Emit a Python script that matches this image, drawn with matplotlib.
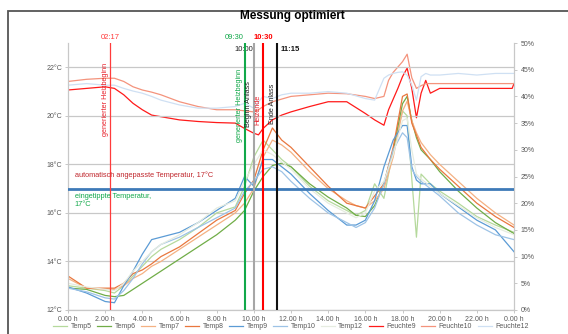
import matplotlib
matplotlib.use("Agg")
from matplotlib import pyplot as plt
from matplotlib import transforms
from matplotlib.patches import Rectangle

plt.rcParams['font.family'] = ['Liberation Sans', 'DejaVu Sans']

# --- data ----------------------------------------------------------------
t_temp = [0, 1, 2, 2.5, 3, 3.5, 4, 4.5, 5, 6, 7, 8, 9, 9.5, 10, 10.5, 11, 11.5,
          12, 13, 14, 15, 15.5, 16, 16.5, 17, 17.5, 18, 18.25, 18.5, 18.75, 19,
          19.5, 20, 21, 22, 23, 24]

temp5 = [13.0, 12.9, 12.8, 12.7, 13.0, 13.4, 13.8, 14.2, 14.5, 14.9, 15.4, 16.0,
         16.25, 17.1, 18.3, 19.0, 18.6, 18.2, 17.9, 17.1, 16.5, 16.1, 15.9, 16.1,
         17.2, 16.6, 18.6, 20.2, 20.0, 17.4, 15.0, 17.6, 17.2, 16.9, 16.4, 15.85,
         15.5, 15.2]
temp6 = [12.9, 12.85, 12.6, 12.55, 12.6, 12.85, 13.1, 13.35, 13.6, 14.1, 14.6,
         15.1, 15.7, 16.1, 16.9, 17.5, 17.95, 18.05, 17.9, 17.2, 16.65, 16.2,
         15.9, 15.85, 16.3, 17.2, 18.6, 20.5, 20.8, 19.8, 19.1, 18.6, 18.2, 17.7,
         16.9, 16.2, 15.6, 15.15]
temp7 = [13.3, 12.9, 12.85, 12.85, 13.0, 13.3, 13.5, 13.8, 14.0, 14.5, 15.0, 15.5,
         16.0, 16.4, 17.0, 18.3, 19.0, 18.8, 18.5, 17.7, 17.0, 16.5, 16.3, 16.2,
         16.5, 17.0, 18.3, 20.2, 20.6, 19.8, 19.3, 18.9, 18.4, 18.0, 17.3, 16.6,
         16.0, 15.5]
temp8 = [13.4, 12.9, 12.9, 12.9, 13.1, 13.5, 13.65, 13.9, 14.2, 14.6, 15.15, 15.7,
         16.1, 16.8, 17.35, 18.6, 19.5, 19.0, 18.7, 17.9, 17.1, 16.4, 16.3, 16.2,
         16.7, 17.2, 18.7, 20.8, 20.9, 19.7, 19.2, 18.7, 18.2, 17.8, 17.1, 16.4,
         15.85, 15.4]
temp9 = [12.95, 12.7, 12.35, 12.3, 13.0, 13.6, 14.3, 14.9, 15.0, 15.2, 15.6, 16.1,
         16.6, 17.5, 17.1, 18.2, 18.2, 17.9, 17.6, 16.8, 16.1, 15.5, 15.5, 15.7,
         16.5, 17.9, 19.0, 19.6, 19.6, 17.9, 17.35, 17.2, 17.2, 16.8, 16.25, 15.7,
         15.3, 14.4]
temp10 = [12.9, 12.75, 12.5, 12.45, 12.8, 13.3, 13.9, 14.4, 14.7, 15.0, 15.4,
          15.8, 16.2, 16.9, 17.3, 17.8, 17.9, 17.7, 17.3, 16.6, 16.0, 15.6, 15.4,
          15.6, 16.2, 17.2, 18.6, 19.3, 19.1, 17.8, 17.5, 17.3, 17.0, 16.7, 16.0,
          15.5, 15.1, 14.9]
temp12 = [13.1, 12.95, 12.85, 12.8, 13.1, 13.6, 14.0, 14.4, 14.7, 15.1, 15.6,
          16.2, 16.5, 17.3, 18.0, 18.6, 18.4, 18.1, 17.8, 17.0, 16.4, 16.0, 15.8,
          16.0, 16.9, 17.3, 18.4, 19.8, 19.9, 18.6, 17.6, 17.4, 17.1, 16.8, 16.3,
          15.8, 15.4, 15.1]

t_hum = [0, 1, 2, 2.5, 3, 3.5, 4, 4.5, 5, 6, 7, 8, 9, 9.5, 10, 10.25, 10.5, 11,
         11.5, 12, 13, 14, 15, 16, 16.5, 17, 17.25, 17.5, 17.75, 18, 18.25, 18.5,
         18.75, 19, 19.25, 19.5, 20, 21, 22, 23, 23.9, 24]

feuchte9 = [41.2, 41.5, 41.8, 41.5, 40.3, 38.7, 37.5, 36.5, 36.2, 35.6, 35.3,
            35.1, 35.0, 34.0, 33.1, 32.8, 34.0, 35.6, 36.5, 37.1, 38.1, 39.0,
            39.0, 36.8, 35.6, 34.6, 37.5, 39.5, 41.5, 43.7, 45.3, 41.5, 36.0,
            40.6, 43.0, 40.6, 41.5, 41.5, 41.5, 41.5, 41.5, 42.4]
feuchte10 = [42.8, 43.2, 43.4, 43.4, 42.8, 41.8, 41.2, 40.8, 40.3, 39.0, 38.1,
             37.5, 37.5, 37.3, 37.1, 37.5, 38.1, 39.0, 39.5, 40.0, 40.3, 40.6,
             40.5, 40.0, 39.6, 40.0, 43.0, 44.5, 45.5, 46.5, 47.9, 43.5, 41.5,
             42.0, 42.4, 42.4, 42.4, 42.4, 42.4, 42.4, 42.4, 42.4]
feuchte12 = [42.1, 42.4, 42.1, 42.1, 41.5, 41.0, 40.6, 40.0, 39.3, 38.4, 37.8,
             37.8, 38.1, 38.7, 37.8, 39.0, 40.0, 39.6, 40.3, 40.6, 40.6, 40.9,
             40.6, 39.6, 39.3, 43.4, 44.0, 44.3, 44.5, 44.6, 44.0, 42.1, 39.3,
             43.7, 44.3, 44.0, 44.0, 44.3, 44.0, 44.3, 44.3, 44.3]

x_ticks = list(range(0, 25, 2))
x_labels = ["0.00 h", "2.00 h", "4.00 h", "6.00 h", "8.00 h", "10.00 h",
            "12.00 h", "14.00 h", "16.00 h", "18.00 h", "20.00 h", "22.00 h",
            "0.00 h"]

# events: time (h), label on top, rotated text
event_times = [2 + 17 / 60, 9.5, 10.0, 10.5, 11.25]
event_tops = ["02:17", "09:30", "10:00", "10:30", "11:15"]
event_texts = ["generierter Heizbeginn", "generierter Heizbeginn",
               "Beginn Anlass", "Heizende", "Ende Anlass"]
set_temp = 17

# --- figure -----------------------------------------------------------------
grey = '#595959'
fig = plt.figure(figsize=(5.68, 3.34), dpi=100)
fig.patches.append(Rectangle((8 / 568, -0.2), 1.2, 1.2 - 11 / 334,
                             transform=fig.transFigure, fill=False,
                             edgecolor='#555555', linewidth=1.3))
ax = fig.add_axes([68 / 568, 1 - 310 / 334, 446 / 568, 267 / 334])
ax2 = ax.twinx()
ax.set_zorder(ax2.get_zorder() + 1)
ax.patch.set_visible(False)

h9, = ax2.plot(t_hum, feuchte9, color='#ff1a1a', lw=0.9, label='Feuchte9')
h10, = ax2.plot(t_hum, feuchte10, color='#f4937c', lw=0.9, label='Feuchte10')
h12, = ax2.plot(t_hum, feuchte12, color='#cfe0f3', lw=0.9, label='Feuchte12')

l5, = ax.plot(t_temp, temp5, color='#b5d99c', lw=0.9, label='Temp5')
l6, = ax.plot(t_temp, temp6, color='#70ad47', lw=0.9, label='Temp6')
l7, = ax.plot(t_temp, temp7, color='#f4b183', lw=0.9, label='Temp7')
l8, = ax.plot(t_temp, temp8, color='#e9773e', lw=0.9, label='Temp8')
l9, = ax.plot(t_temp, temp9, color='#5b9bd5', lw=0.9, label='Temp9')
l10, = ax.plot(t_temp, temp10, color='#9dc3e6', lw=0.9, label='Temp10')
l12, = ax.plot(t_temp, temp12, color='#e6ece0', lw=0.9, label='Temp12')

ax.axhline(set_temp, color='#3d7ab8', lw=2.0, zorder=5)

ev_colors = ['#ff3b3b', '#12a84a', '#a6a6a6', '#ff0000', '#111111']
ev_widths = [0.9, 1.5, 1.5, 1.5, 1.5]
txt_colors = ['#e8202a', '#12a84a', '#222222', '#e8202a', '#222222']
top_y = [1.019, 1.019, 0.977, 1.019, 0.977]
top_ha = ['center', 'right', 'right', 'center', 'left']
top_bold = ['normal', 'normal', 'normal', 'bold', 'bold']
txt_y = [20.68, 20.44, 20.48, 20.23, 20.48]
trans = transforms.blended_transform_factory(ax.transData, ax.transAxes)
for i, t in enumerate(event_times):
    ax.axvline(t, color=ev_colors[i], lw=ev_widths[i], zorder=6)
    dx = {'center': 0, 'right': -0.05, 'left': 0.2}[top_ha[i]]
    ax.text(t + dx, top_y[i], event_tops[i], transform=trans, ha=top_ha[i],
            va='center', fontsize=5.5, color=ev_colors[i] if i != 2 else '#222222',
            fontweight=top_bold[i])
    ax.text(t - 0.08, txt_y[i], event_texts[i], rotation=90, ha='right',
            va='center', fontsize=5.2, color=txt_colors[i], zorder=7)

ax.text(0.35, 17.55, "automatisch angepasste Temperatur, 17°C", fontsize=5.3,
        color='#c0272d', va='center', ha='left', zorder=7)
ax.text(0.35, 16.5, "eingetippte Temperatur,\n17°C", fontsize=5.3,
        color='#12a84a', va='center', ha='left', linespacing=1.2, zorder=7)

ax.set_xlim(0, 24)
ax.set_ylim(12, 23)
ax2.set_ylim(0, 50)
ax.set_xticks(x_ticks)
ax.set_xticklabels(x_labels)
ax.set_yticks(range(12, 23, 2))
ax.set_yticklabels([f"{v}°C" for v in range(12, 23, 2)])
ax2.set_yticks(range(0, 51, 5))
ax2.set_yticklabels([f"{v}%" for v in range(0, 51, 5)])
ax.grid(axis='y', color='#c8c8c8', lw=0.9)
ax.set_axisbelow(True)

for a in (ax, ax2):
    a.spines['top'].set_visible(False)
    for s in ('left', 'right', 'bottom'):
        a.spines[s].set_color('#c8c8c8')
        a.spines[s].set_linewidth(0.8)
ax.tick_params(axis='both', labelsize=5, colors=grey, length=2, width=0.6,
               pad=2, color='#bfbfbf')
ax2.tick_params(axis='y', labelsize=5, colors=grey, length=2, width=0.6,
                pad=3, color='#bfbfbf')

fig.text(292 / 568, 1 - 16 / 334, "Messung optimiert", ha='center',
         va='center', fontsize=8.5, fontweight='bold')

handles = [l5, l6, l7, l8, l9, l10, l12, h9, h10, h12]
leg = fig.legend(handles=handles, loc='center', bbox_to_anchor=(291 / 568, 1 - 327 / 334),
                 ncol=10, frameon=False, fontsize=5, handlelength=2.0,
                 handletextpad=0.5, columnspacing=0.8)
for txt in leg.get_texts():
    txt.set_color(grey)

fig.savefig("out.png", dpi=100)
